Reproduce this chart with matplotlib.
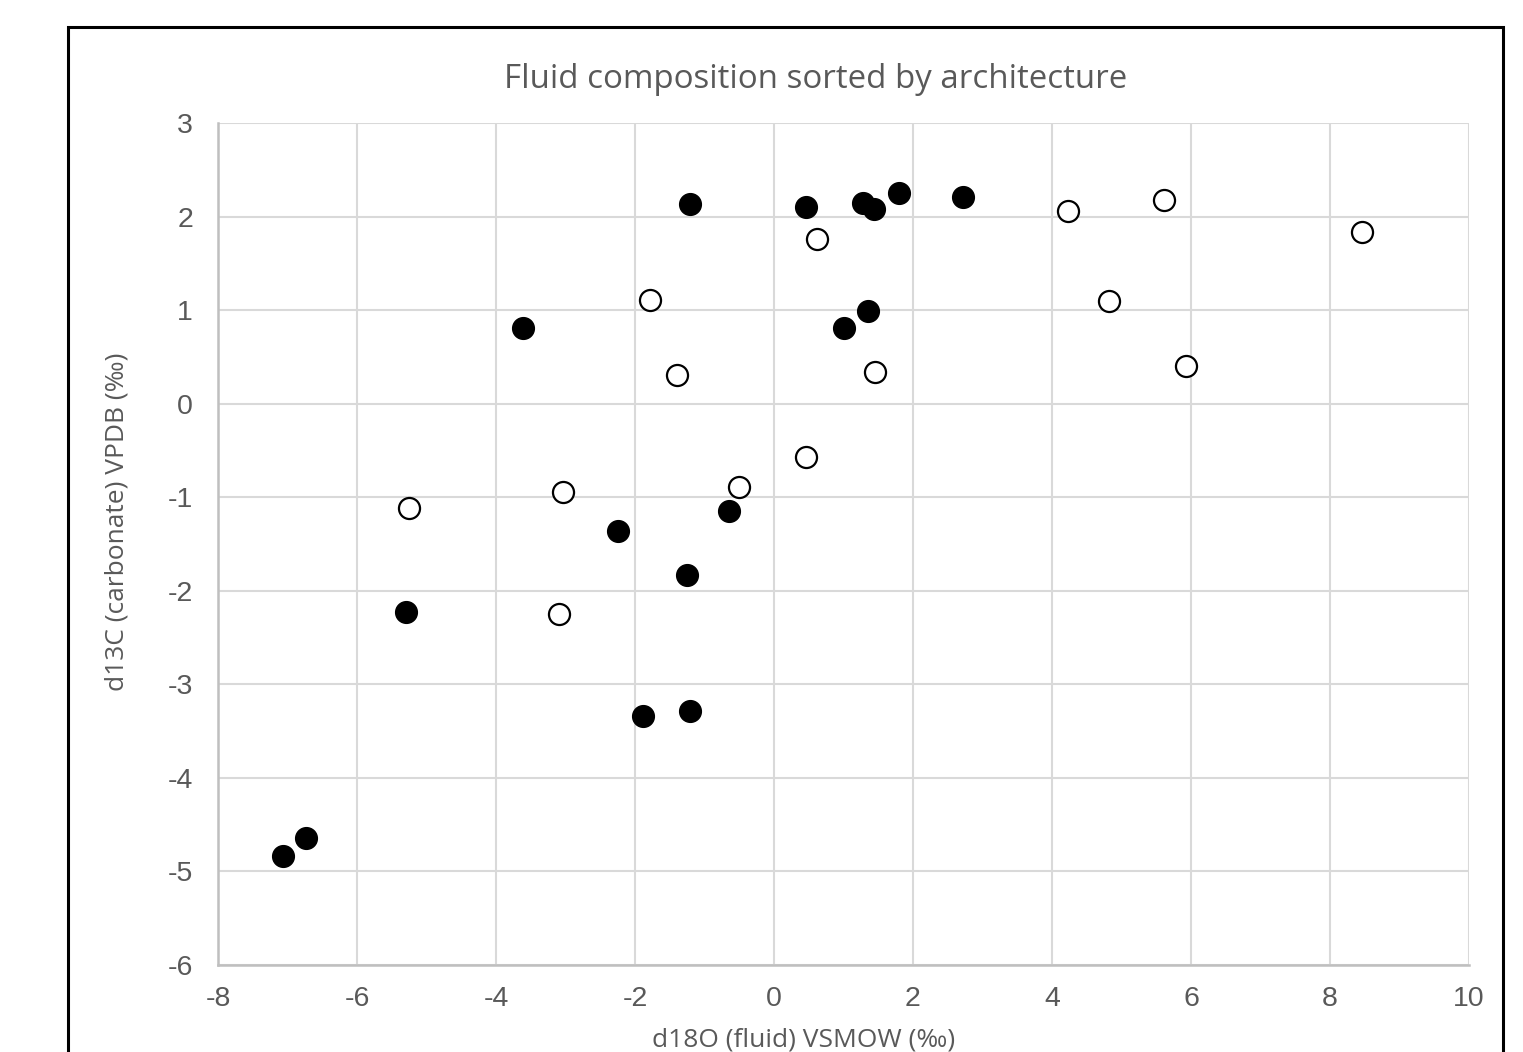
import matplotlib
matplotlib.use("Agg")
import matplotlib.pyplot as plt
from matplotlib.patches import Rectangle

plt.rcParams["axes.unicode_minus"] = False

# d18O (fluid) and d13C (carbonate), two architecture groups
filled_x = [-1.21, 0.46, 1.28, 1.44, 1.80, 2.72, -3.61, 1.01, 1.35,
            -2.24, -0.65, -1.25, -5.29, -1.88, -1.21, -6.73, -7.06]
filled_y = [2.13, 2.10, 2.14, 2.08, 2.25, 2.21, 0.81, 0.81, 0.99,
            -1.36, -1.15, -1.83, -2.23, -3.34, -3.29, -4.64, -4.84]

open_x = [-1.78, -1.40, 0.62, 1.45, 0.46, -0.50, -3.04, -5.25, -3.09,
          4.23, 5.61, 8.46, 4.82, 5.93]
open_y = [1.11, 0.31, 1.76, 0.34, -0.57, -0.89, -0.94, -1.12, -2.25,
          2.06, 2.18, 1.83, 1.10, 0.40]

x_ticks = [-8, -6, -4, -2, 0, 2, 4, 6, 8, 10]
y_ticks = [3, 2, 1, 0, -1, -2, -3, -4, -5, -6]

W, H = 1523, 1052
fig = plt.figure(figsize=(W / 100, H / 100), dpi=100)
ax = fig.add_axes([218 / W, 1 - 965 / H, (1469 - 218) / W, (965 - 123) / H])

ax.scatter(filled_x, filled_y, s=245, c="black", edgecolors="black",
           linewidths=1, zorder=3)
ax.scatter(open_x, open_y, s=230, c="white", edgecolors="black",
           linewidths=1.6, zorder=3)

ax.set_xlim(-8, 10)
ax.set_ylim(-6, 3)
ax.set_xticks(x_ticks)
ax.set_yticks(y_ticks)
ax.grid(True, color="#d9d9d9", linewidth=1.5, zorder=0)
ax.set_axisbelow(True)
for side in ["top", "right"]:
    ax.spines[side].set_visible(False)
for side in ["left", "bottom"]:
    ax.spines[side].set_color("#bfbfbf")
    ax.spines[side].set_linewidth(1.8)
ax.tick_params(length=0, labelcolor="#595959", labelsize=20.5)
ax.tick_params(axis="y", pad=18)
ax.tick_params(axis="x", pad=15)
for lab in ax.get_xticklabels() + ax.get_yticklabels():
    lab.set_family("Liberation Sans")

fig.text(816 / W, 1 - 79 / H, "Fluid composition sorted by architecture",
         ha="center", va="center", fontsize=23.8, color="#595959",
         family="Open Sans")
fig.text(804 / W, 1 - 1040 / H, "d18O (fluid) VSMOW (‰)",
         ha="center", va="center", fontsize=19, color="#595959",
         family="Open Sans")
fig.text(117 / W, 1 - 522 / H, "d13C (carbonate) VPDB (‰)",
         ha="center", va="center", fontsize=19, color="#595959",
         family="Open Sans", rotation=90)

# outer chart border (runs off the bottom edge)
fig.patches.append(Rectangle((68 / W, -0.05), (1503 - 68) / W, 1.05 - 27 / H,
                             transform=fig.transFigure, fill=False,
                             edgecolor="black", linewidth=2.2))

fig.savefig("out.png", dpi=100)
